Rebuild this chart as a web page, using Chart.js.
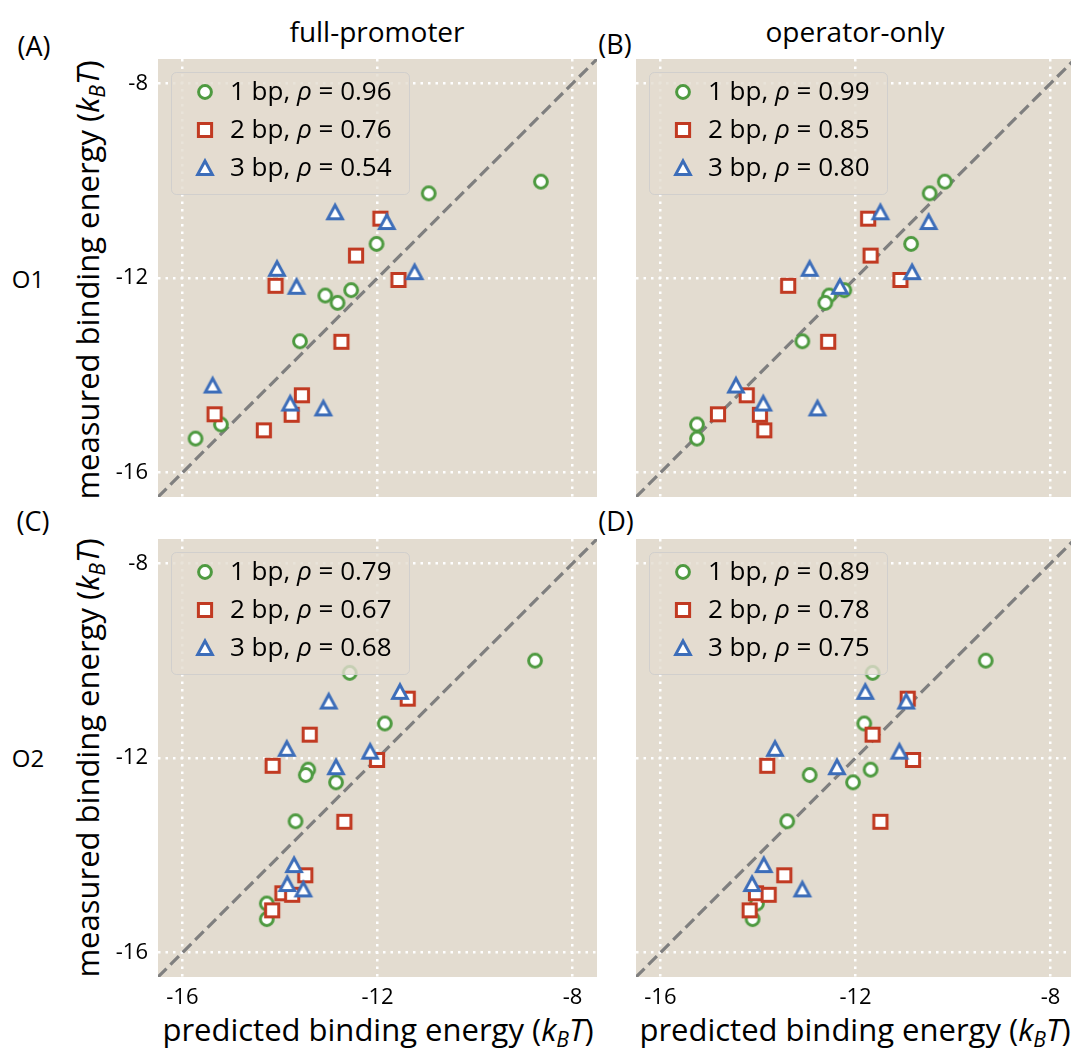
<!DOCTYPE html>
<html>
<head>
<meta charset="utf-8">
<script src="https://cdn.jsdelivr.net/npm/chart.js@4.4.1/dist/chart.umd.min.js"></script>
<style>
  html, body { margin: 0; padding: 0; width: 1071px; height: 1053px; overflow: hidden; background: #fff; }
  body { position: relative; font-family: 'Open Sans', sans-serif; color: #000; }
  canvas { position: absolute; }
  .txt { position: absolute; white-space: nowrap; transform: translate(-50%, -50%); line-height: 1.2; }
  .big { font-size: 28px; }
  .axl { font-size: 31px; }
  .mid { font-size: 24px; }
  .pl { font-size: 27px; }
  .ylab { transform: translate(-50%, -50%) rotate(-90deg); }
  .sub { font-size: 0.68em; position: relative; top: 0.3em; }
</style>
</head>
<body>
<div class="txt big" style="left:377px; top:32px;">full-promoter</div>
<div class="txt big" style="left:855px; top:32px;">operator-only</div>
<div class="txt pl" style="left:34px; top:46px;">(A)</div>
<div class="txt pl" style="left:615px; top:44px;">(B)</div>
<div class="txt pl" style="left:33px; top:521px;">(C)</div>
<div class="txt pl" style="left:616px; top:521px;">(D)</div>
<div class="txt mid" style="left:28px; top:279px;">O1</div>
<div class="txt mid" style="left:28px; top:758px;">O2</div>
<div class="txt axl ylab" style="left:88px; top:280px;">measured binding energy (<i>k</i><i class="sub">B</i><i>T</i>)</div>
<div class="txt axl ylab" style="left:88px; top:758px;">measured binding energy (<i>k</i><i class="sub">B</i><i>T</i>)</div>
<div class="txt axl" style="left:378px; top:1030px;">predicted binding energy (<i>k</i><i class="sub">B</i><i>T</i>)</div>
<div class="txt axl" style="left:855px; top:1030px;">predicted binding energy (<i>k</i><i class="sub">B</i><i>T</i>)</div>

<canvas id="chartA" width="499" height="438" style="left:98px; top:59px;"></canvas>
<canvas id="chartB" width="439" height="438" style="left:636px; top:59px;"></canvas>
<canvas id="chartC" width="499" height="490" style="left:98px; top:539px;"></canvas>
<canvas id="chartD" width="439" height="490" style="left:636px; top:539px;"></canvas>

<script>
// axis range and ticks (same for every panel)
const axisMin = -16.5;
const axisMax = -7.5;
const tickValues = [-16, -12, -8];
const seriesNames = ['1 bp', '2 bp', '3 bp'];

// measured binding energies, operator O1 (shared by panels A and B)
const measuredO1_1bp = [-10.02, -10.26, -11.30, -12.25, -12.36, -12.51, -13.30, -15.01, -15.30];
const measuredO1_2bp = [-10.78, -11.54, -12.04, -12.16, -13.31, -14.41, -14.80, -14.81, -15.13];
const measuredO1_3bp = [-10.65, -10.85, -11.81, -11.88, -12.18, -14.21, -14.58, -14.68];

// measured binding energies, operator O2 (shared by panels C and D)
const measuredO2_1bp = [-10.00, -10.25, -11.29, -12.24, -12.35, -12.50, -13.30, -14.99, -15.31];
const measuredO2_2bp = [-10.78, -11.52, -12.04, -12.16, -13.31, -14.41, -14.78, -14.81, -15.13];
const measuredO2_3bp = [-10.64, -10.84, -11.81, -11.87, -12.19, -14.20, -14.59, -14.70];

// predicted, full-promoter model
const predictedA_1bp = [-8.65, -10.95, -12.02, -12.54, -13.07, -12.82, -13.59, -15.21, -15.73];
const predictedA_2bp = [-11.94, -12.44, -11.57, -14.09, -12.74, -13.55, -15.34, -13.76, -14.33];
const predictedA_3bp = [-12.87, -11.81, -14.06, -11.24, -13.66, -15.38, -13.79, -13.11];
const predictedC_1bp = [-8.77, -12.57, -11.85, -13.42, -13.47, -12.85, -13.68, -14.27, -14.27];
const predictedC_2bp = [-11.38, -13.39, -12.01, -14.15, -12.68, -13.48, -13.95, -13.75, -14.16];
const predictedC_3bp = [-11.54, -13.00, -13.86, -12.15, -12.85, -13.71, -13.85, -13.52];

// predicted, operator-only model
const predictedB_1bp = [-10.17, -10.48, -10.86, -12.23, -12.54, -12.62, -13.09, -15.25, -15.25];
const predictedB_2bp = [-11.74, -11.69, -11.08, -13.38, -12.56, -14.23, -14.82, -13.96, -13.87];
const predictedB_3bp = [-11.49, -10.50, -12.94, -10.84, -12.32, -14.45, -13.89, -12.78];
const predictedD_1bp = [-9.33, -11.65, -11.82, -11.69, -12.94, -12.05, -13.40, -14.02, -14.11];
const predictedD_2bp = [-10.93, -11.65, -10.82, -13.81, -11.49, -13.46, -14.04, -13.78, -14.17];
const predictedD_3bp = [-11.80, -10.96, -13.65, -11.10, -12.38, -13.88, -14.12, -13.09];

// Spearman rho shown in each legend
const rhoA = [0.96, 0.76, 0.54];
const rhoB = [0.99, 0.85, 0.80];
const rhoC = [0.79, 0.67, 0.68];
const rhoD = [0.89, 0.78, 0.75];

const colors = ['#4e9a40', '#c13a22', '#3c6db9'];
const shapes = ['circle', 'square', 'triangle'];
const bgColor = '#e3dcd0';

// matplotlib-like open markers (white face, coloured edge)
function makeMarker(shape, color) {
  const c = document.createElement('canvas');
  c.width = 24; c.height = 24;
  const ctx = c.getContext('2d');
  const m = 12;
  ctx.lineWidth = 3;
  ctx.strokeStyle = color;
  ctx.fillStyle = '#fff';
  ctx.lineJoin = 'miter';
  ctx.beginPath();
  if (shape === 'circle') {
    ctx.arc(m, m, 6.4, 0, Math.PI * 2);
  } else if (shape === 'square') {
    ctx.rect(m - 6.6, m - 6.6, 13.2, 13.2);
  } else {
    ctx.moveTo(m, m - 7);
    ctx.lineTo(m + 7.3, m + 6.4);
    ctx.lineTo(m - 7.3, m + 6.4);
    ctx.closePath();
  }
  ctx.fill();
  ctx.stroke();
  return c;
}
const markers = shapes.map((s, i) => makeMarker(s, colors[i]));

// beige axes background
const bgPlugin = {
  id: 'bg',
  beforeDraw(chart) {
    const { ctx, chartArea: a } = chart;
    ctx.save();
    ctx.fillStyle = bgColor;
    ctx.fillRect(a.left, a.top, a.right - a.left, a.bottom - a.top);
    ctx.restore();
  }
};

// legend box in the upper left corner, drawn on top of everything
const legendPlugin = {
  id: 'boxLegend',
  afterDraw(chart, args, opts) {
    const { ctx, chartArea: a } = chart;
    const x0 = a.left + 13, y0 = a.top + 13, w = 238, h = 122;
    ctx.save();
    ctx.beginPath();
    ctx.roundRect(x0 + 0.5, y0 + 0.5, w, h, 5);
    ctx.fillStyle = 'rgba(227,220,208,0.8)';
    ctx.fill();
    ctx.strokeStyle = 'rgba(204,204,204,0.8)';
    ctx.lineWidth = 1;
    ctx.stroke();
    ctx.textBaseline = 'middle';
    ctx.fillStyle = '#000';
    opts.rho.forEach((r, i) => {
      const y = y0 + 20 + i * 38;
      ctx.drawImage(markers[i], x0 + 34 - 12, y - 12);
      let x = x0 + 59;
      const parts = [[seriesNames[i] + ', ', 'normal'], ['\u03c1', 'italic'], [' = ' + r.toFixed(2), 'normal']];
      parts.forEach(([t, style]) => {
        ctx.font = style + ' 26px "Open Sans"';
        ctx.fillText(t, x, y + 1);
        x += ctx.measureText(t).width;
      });
    });
    ctx.restore();
  }
};

function pts(xs, ys) {
  return xs.map((x, i) => ({ x: x, y: ys[i] }));
}

function makeChart(id, predicted, measured, rho, showX, showY) {
  const datasets = [{
    type: 'line',
    data: [{ x: axisMin, y: axisMin }, { x: axisMax, y: axisMax }],
    borderColor: '#7f7f7f',
    borderWidth: 3.2,
    borderDash: [12, 5.5],
    pointRadius: 0,
    order: 4
  }];
  for (let i = 0; i < 3; i++) {
    datasets.push({
      label: seriesNames[i],
      data: pts(predicted[i], measured[i]),
      pointStyle: markers[i],
      pointRadius: 8,
      pointHoverRadius: 8,
      order: 3 - i
    });
  }
  const tickFont = { family: 'Open Sans', size: 22 };
  return new Chart(document.getElementById(id), {
    type: 'scatter',
    data: { datasets: datasets },
    options: {
      responsive: false,
      animation: false,
      events: [],
      layout: { padding: 0, autoPadding: false },
      plugins: { legend: { display: false }, tooltip: { enabled: false }, boxLegend: { rho: rho } },
      scales: {
        x: {
          type: 'linear', min: axisMin, max: axisMax,
          afterBuildTicks: s => { s.ticks = tickValues.map(v => ({ value: v })); },
          afterFit: s => {
            s.height = showX ? 52 : 0;
            s.paddingLeft = 0; s.paddingRight = 0;
          },
          ticks: { display: showX, color: '#000', font: tickFont, padding: 8, callback: v => String(v) },
          grid: { color: '#ffffff', lineWidth: 2.5, drawTicks: false },
          border: { display: false, dash: [2.5, 5] }
        },
        y: {
          type: 'linear', min: axisMin, max: axisMax,
          afterBuildTicks: s => { s.ticks = tickValues.map(v => ({ value: v })); },
          afterFit: s => {
            s.width = showY ? 60 : 0;
            s.paddingTop = 0; s.paddingBottom = 0;
          },
          ticks: { display: showY, color: '#000', font: tickFont, padding: 10, callback: v => String(v) },
          grid: { color: '#ffffff', lineWidth: 2.5, drawTicks: false },
          border: { display: false, dash: [2.5, 5] }
        }
      }
    },
    plugins: [bgPlugin, legendPlugin]
  });
}

makeChart('chartA', [predictedA_1bp, predictedA_2bp, predictedA_3bp], [measuredO1_1bp, measuredO1_2bp, measuredO1_3bp], rhoA, false, true);
makeChart('chartB', [predictedB_1bp, predictedB_2bp, predictedB_3bp], [measuredO1_1bp, measuredO1_2bp, measuredO1_3bp], rhoB, false, false);
makeChart('chartC', [predictedC_1bp, predictedC_2bp, predictedC_3bp], [measuredO2_1bp, measuredO2_2bp, measuredO2_3bp], rhoC, true, true);
makeChart('chartD', [predictedD_1bp, predictedD_2bp, predictedD_3bp], [measuredO2_1bp, measuredO2_2bp, measuredO2_3bp], rhoD, true, false);
</script>
</body>
</html>
